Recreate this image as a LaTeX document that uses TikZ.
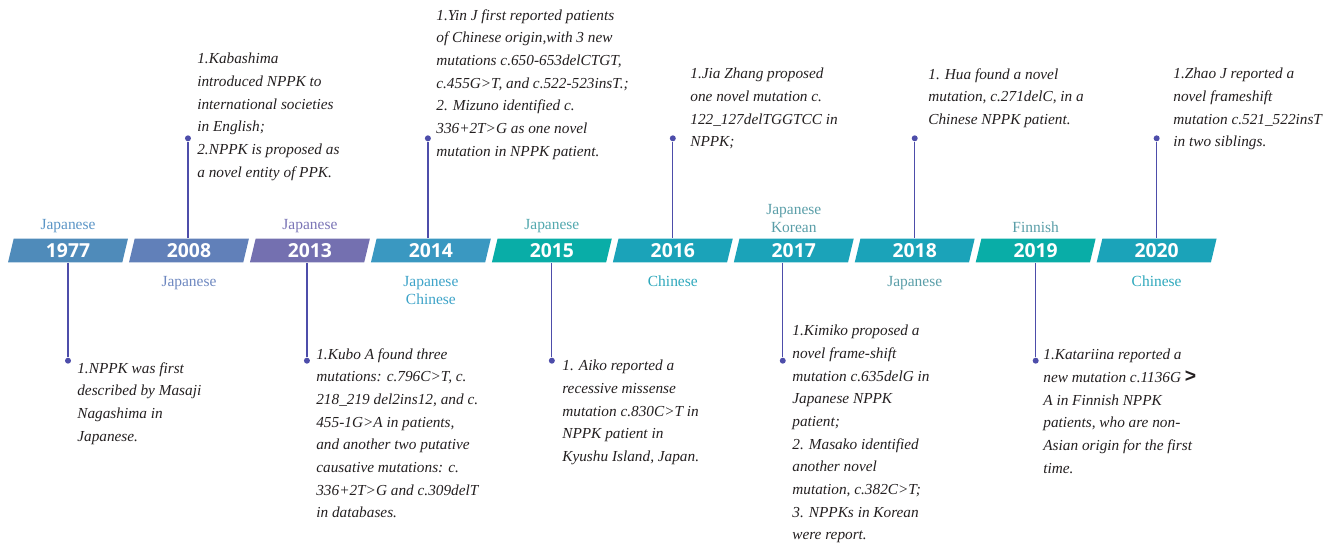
\documentclass[tikz,border=0pt]{standalone}
\usepackage{fontspec}
\setmainfont{Liberation Serif}
\newfontfamily\yearfont{Open Sans}
\newfontfamily\gtfont{Liberation Sans}
\usetikzlibrary{shapes.geometric,positioning}

\definecolor{bandA}{HTML}{4F8BBA}
\definecolor{bandB}{HTML}{6180B9}
\definecolor{bandC}{HTML}{7470B0}
\definecolor{bandD}{HTML}{3A98C1}
\definecolor{bandE}{HTML}{09ADA7}
\definecolor{bandF}{HTML}{1BA3B9}
\definecolor{langA}{HTML}{5B95C6}
\definecolor{langB}{HTML}{6E88C0}
\definecolor{langC}{HTML}{7B75B6}
\definecolor{langD}{HTML}{3DA3C8}
\definecolor{langE}{HTML}{52A8AE}
\definecolor{langF}{HTML}{2EA8BC}
\definecolor{langG}{HTML}{5A9EA8}
\definecolor{stemblue}{HTML}{4D4DAA}
\definecolor{notegray}{HTML}{231F20}

\begin{document}
\begin{tikzpicture}[x=0.02cm, y=-0.02cm, node distance=0.12cm,
    yearbox/.style={trapezium, trapezium left angle=68, trapezium right angle=112,
      trapezium stretches body, minimum width=2.4cm, minimum height=0.48cm,
      inner sep=0pt, text=white, font=\yearfont\bfseries\fontsize{11}{12}\selectfont},
    lang/.style={font=\fontsize{8.8}{10.4}\selectfont, align=center, inner sep=0pt},
    note/.style={font=\itshape\fontsize{8.7}{12.9}\selectfont, align=left,
      inner sep=0pt, anchor=north west, text=notegray},
    dot/.style={circle, fill=stemblue, inner sep=0pt, minimum size=0.12cm},
    stem/.style={draw=stemblue, line width=0.7pt}]
    \useasboundingbox (0,0) rectangle (1338,550);

    \node[yearbox,fill=bandA] (y1977) at (68,250.5) {1977};
    \node[yearbox,fill=bandB,right = of y1977] (y2008) {2008};
    \node[yearbox,fill=bandC,right = of y2008] (y2013) {2013};
    \node[yearbox,fill=bandD,right = of y2013] (y2014) {2014};
    \node[yearbox,fill=bandE,right = of y2014] (y2015) {2015};
    \node[yearbox,fill=bandF,right = of y2015] (y2016) {2016};
    \node[yearbox,fill=bandF,right = of y2016] (y2017) {2017};
    \node[yearbox,fill=bandF,right = of y2017] (y2018) {2018};
    \node[yearbox,fill=bandE,right = of y2018] (y2019) {2019};
    \node[yearbox,fill=bandF,right = of y2019] (y2020) {2020};

    \node[lang,text=langA,above = 0.1cm of y1977] (c1977) {Japanese};
    \node[lang,text=langB,below = 0.26cm of y2008] (c2008) {Japanese};
    \node[lang,text=langC,above = 0.1cm of y2013] (c2013) {Japanese};
    \node[lang,text=langD,below = 0.26cm of y2014] (c2014) {Japanese\\Chinese};
    \node[lang,text=langE,above = 0.1cm of y2015] (c2015) {Japanese};
    \node[lang,text=langF,below = 0.26cm of y2016] (c2016) {Chinese};
    \node[lang,text=langG,above = 0.1cm of y2017] (c2017) {Japanese\\Korean};
    \node[lang,text=langG,below = 0.26cm of y2018] (c2018) {Japanese};
    \node[lang,text=langG,above = 0.1cm of y2019] (c2019) {Finnish};
    \node[lang,text=langF,below = 0.26cm of y2020] (c2020) {Chinese};

    \node[dot,above = 1.93cm of y2008,xshift=-0.02cm] (d2008) {};
    \node[dot,above = 1.93cm of y2014,xshift=-0.06cm] (d2014) {};
    \node[dot,above = 1.93cm of y2016] (d2016) {};
    \node[dot,above = 1.93cm of y2018] (d2018) {};
    \node[dot,above = 1.93cm of y2020] (d2020) {};
    \node[dot,below = 1.89cm of y1977] (d1977) {};
    \node[dot,below = 1.89cm of y2013,xshift=-0.06cm] (d2013) {};
    \node[dot,below = 1.89cm of y2015] (d2015) {};
    \node[dot,below = 1.89cm of y2017,xshift=-0.22cm] (d2017) {};
    \node[dot,below = 1.89cm of y2019] (d2019) {};

    \draw[stem] (d2008 |- y2008.north) -- (d2008);
    \draw[stem] (d2014 |- y2014.north) -- (d2014);
    \draw[stem] (d2016 |- y2016.north) -- (d2016);
    \draw[stem] (d2018 |- y2018.north) -- (d2018);
    \draw[stem] (d2020 |- y2020.north) -- (d2020);
    \draw[stem] (d1977 |- y1977.south) -- (d1977);
    \draw[stem] (d2013 |- y2013.south) -- (d2013);
    \draw[stem] (d2015 |- y2015.south) -- (d2015);
    \draw[stem] (d2017 |- y2017.south) -- (d2017);
    \draw[stem] (d2019 |- y2019.south) -- (d2019);

    \node[note] (t2008) at (197,53) {1.Kabashima\\introduced NPPK to\\international societies\\in English;\\2.NPPK is proposed as\\a novel entity of PPK.};
    \node[note] (t2014) at (436,9) {1.Yin J first reported patients\\of Chinese origin,with 3 new\\mutations c.650-653delCTGT,\\c.455G>T, and c.522-523insT.;\\2. Mizuno identified c.\\336+2T>G as one novel\\mutation in NPPK patient.};
    \node[note] (t2016) at (690,68) {1.Jia Zhang proposed\\one novel mutation c.\\122\_127delTGGTCC in\\NPPK;};
    \node[note] (t2018) at (928,68) {1. Hua found a novel\\mutation, c.271delC, in a\\Chinese NPPK patient.};
    \node[note] (t2020) at (1173,68) {1.Zhao J reported a\\novel frameshift\\mutation c.521\_522insT\\in two siblings.};
    \node[note] (t1977) at (77,362) {1.NPPK was first\\described by Masaji\\Nagashima in\\Japanese.};
    \node[note] (t2013) at (316,348) {1.Kubo A found three\\mutations: c.796C>T, c.\\218\_219 del2ins12, and c.\\455-1G>A in patients,\\and another two putative\\causative mutations: c.\\336+2T>G and c.309delT\\in databases.};
    \node[note] (t2015) at (562,360) {1. Aiko reported a\\recessive missense\\mutation c.830C>T in\\NPPK patient in\\Kyushu Island, Japan.};
    \node[note] (t2017) at (792,325) {1.Kimiko proposed a\\novel frame-shift\\mutation c.635delG in\\Japanese NPPK\\patient;\\2. Masako identified\\another novel\\mutation, c.382C>T;\\3. NPPKs in Korean\\were report.};
    \node[note] (t2019) at (1043,349) {1.Katariina reported a\\new mutation c.1136G {\upshape\gtfont\bfseries\fontsize{11}{12.9}\selectfont >}\\A in Finnish NPPK\\patients, who are non-\\Asian origin for the first\\time.};
  \end{tikzpicture}
\end{document}
